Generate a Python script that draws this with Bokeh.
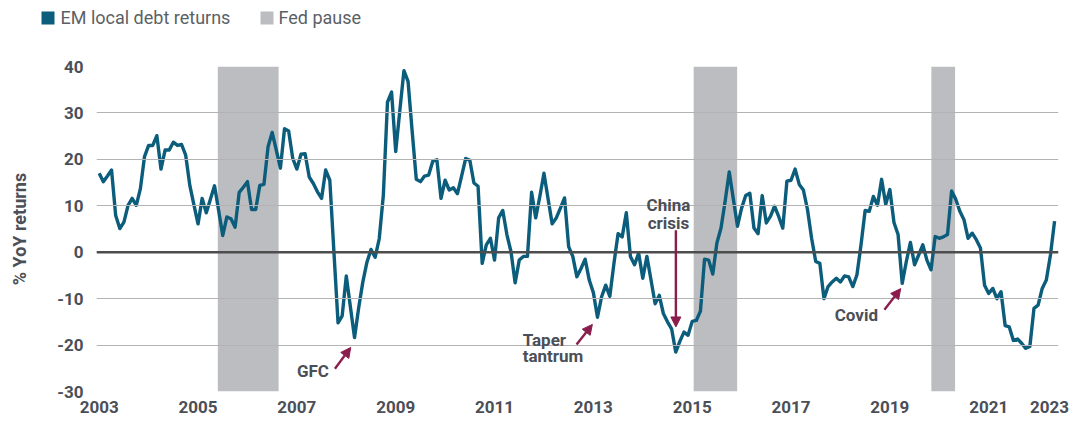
import numpy as np
from bokeh.plotting import figure
from bokeh.layouts import column, row
from bokeh.models import (FixedTicker, Span, Arrow, NormalHead, Label, Range1d)
from bokeh.core.properties import value
from bokeh.embed import file_html
from bokeh.resources import INLINE

# ---------------- data ----------------
# EM local debt returns, % YoY, monthly from Jan 2003
returns = [
    17.0, 15.2, 16.4, 17.7, 7.9, 5.1, 6.5, 10.1, 11.6, 10.1, 13.7, 20.6,
    23.0, 23.0, 25.1, 17.9, 22.0, 22.0, 23.7, 23.0, 23.2, 20.9, 14.4, 10.2,
    6.1, 11.6, 8.5, 11.4, 14.3, 9.0, 3.6, 7.6, 7.2, 5.4, 12.9, 14.0,
    15.2, 9.2, 9.2, 14.4, 14.6, 22.7, 25.8, 22.0, 18.1, 26.6, 26.1, 20.2,
    17.9, 21.1, 21.2, 16.2, 14.8, 13.0, 11.6, 17.7, 15.5, 0.0, -15.2, -13.7,
    -5.1, -11.8, -18.4, -12.0, -6.5, -2.2, 0.6, -1.1, 2.9, 12.3, 32.3, 34.5,
    21.7, 30.5, 39.1, 36.8, 26.0, 15.7, 15.2, 16.4, 16.6, 19.6, 19.9, 11.6,
    15.5, 13.4, 13.9, 12.6, 16.4, 20.2, 19.8, 14.9, 14.2, -2.4, 1.6, 3.0,
    -1.7, 7.4, 9.0, 3.8, 0.1, -6.6, -1.7, -0.9, -0.9, 12.9, 7.4, 12.0,
    17.0, 11.5, 6.1, 7.4, 9.5, 11.7, 1.2, -0.9, -5.3, -3.5, -1.5, -6.0,
    -8.7, -14.0, -9.6, -7.1, -9.5, -2.4, 4.0, 3.3, 8.5, -0.9, -2.7, -0.2,
    -5.6, -0.9, -6.0, -11.1, -9.3, -13.2, -15.0, -16.5, -21.5, -19.2, -17.2, -17.9,
    -14.9, -14.7, -12.7, -1.5, -1.7, -4.7, 2.0, 5.2, 11.0, 17.3, 11.4, 5.6,
    9.5, 12.2, 12.7, 5.2, 4.0, 12.2, 6.3, 7.7, 9.9, 7.7, 5.2, 15.3,
    15.5, 17.9, 14.6, 13.4, 9.2, 3.0, -2.0, -2.4, -10.0, -7.4, -6.4, -5.6,
    -6.4, -5.1, -5.3, -7.4, -4.9, 1.6, 9.0, 8.8, 12.0, 10.1, 15.7, 10.3,
    13.5, 6.4, 3.8, -6.7, -2.0, 2.1, -2.7, -0.6, 1.6, -1.7, -3.8, 3.4,
    3.0, 3.3, 3.8, 13.2, 11.4, 8.8, 7.0, 3.0, 4.1, 2.7, 0.9, -7.1,
    -8.9, -7.8, -10.0, -8.5, -15.8, -16.1, -19.0, -18.7, -19.6, -20.7, -20.3, -12.1,
    -11.4, -7.8, -6.0, -0.6, 6.7,
]
start_year = 2003
months = np.arange(len(returns))
dates = start_year + months / 12.0

# Fed pause periods (fractional years)
pause_start = [2005.40, 2015.03, 2019.84]
pause_end = [2006.63, 2015.91, 2020.32]

# tick labels
x_tick_values = [2003, 2005, 2007, 2009, 2011, 2013, 2015, 2017, 2019, 2021, 2022.23]
x_tick_labels = ["2003", "2005", "2007", "2009", "2011", "2013", "2015", "2017",
                 "2019", "2021", "2023"]
y_ticks = [-30, -20, -10, 0, 10, 20, 30, 40]

series_names = ["EM local debt returns", "Fed pause"]

# ---------------- style ----------------
TEAL = "#0b5d7b"
BAND = "#bcbdc1"
MAROON = "#8a1d4b"
TXT = "#4b4f57"
FONT = "Roboto"
W = 1089
LEG_H = 30

# ---------------- legend strip (pixel-space figure, y pointing down) ----------------
lg = figure(width=W, height=LEG_H, output_backend="svg", toolbar_location=None,
            x_range=Range1d(0, W), y_range=Range1d(LEG_H, 0),
            x_axis_type=None, y_axis_type=None, min_border=0)
lg.outline_line_color = None
lg.grid.visible = False
leg_swatch_left = [41, 260]
leg_text_left = [60, 278]
lg.quad(left=leg_swatch_left, right=[x + 13 for x in leg_swatch_left],
        top=[11, 11], bottom=[24, 24], fill_color=[TEAL, BAND], line_color=None)
lg.text(x=leg_text_left, y=[17, 17], text=series_names, text_font=value(FONT),
        text_font_size="18px", text_color="#5b5f66", text_baseline="middle",
        text_align="left")

# ---------------- main chart ----------------
p = figure(width=W, height=425 - LEG_H, output_backend="svg", toolbar_location=None,
           x_range=Range1d(2002.945, 2022.413), y_range=Range1d(-30, 40),
           min_border_left=96, min_border_right=31, min_border_top=66 - LEG_H,
           min_border_bottom=34)
p.outline_line_color = None

bands = p.quad(left=pause_start, right=pause_end, bottom=-30, top=40,
               fill_color=BAND, line_color=None, level="underlay")

p.xgrid.visible = False
p.ygrid.ticker = FixedTicker(ticks=y_ticks)
p.ygrid.grid_line_color = "#b3b3b3"
p.ygrid.grid_line_width = 1.2
p.ygrid.level = "glyph"

zero = Span(location=0, dimension="width", line_color="#4d4d4d", line_width=2.6,
            level="glyph")
p.add_layout(zero)

p.line(dates, returns, line_color=TEAL, line_width=3.4, line_join="round")

# axes
p.xaxis.ticker = FixedTicker(ticks=x_tick_values)
p.xaxis.major_label_overrides = {v: l for v, l in zip(x_tick_values, x_tick_labels)}
p.yaxis.ticker = FixedTicker(ticks=y_ticks)
p.yaxis.major_label_overrides = {t: str(t) for t in y_ticks}
for ax in (p.xaxis[0], p.yaxis[0]):
    ax.axis_line_color = None
    ax.major_tick_line_color = None
    ax.minor_tick_line_color = None
    ax.major_tick_out = 0
    ax.major_tick_in = 0
    ax.minor_tick_out = 0
    ax.major_label_text_font = FONT
    ax.major_label_text_font_style = "bold"
    ax.major_label_text_font_size = "17px"
    ax.major_label_text_color = TXT
p.xaxis.major_label_standoff = 9
p.yaxis.major_label_standoff = 13
p.yaxis.axis_label = "% YoY returns"
p.yaxis.axis_label_text_font = FONT
p.yaxis.axis_label_text_font_style = "bold"
p.yaxis.axis_label_text_font_size = "18px"
p.yaxis.axis_label_text_color = TXT
p.yaxis.axis_label_standoff = 24

# annotations
def add_label(x, y, text, align):
    p.add_layout(Label(x=x, y=y, text=text, text_font=FONT, text_font_style="bold",
                       text_font_size="17px", text_color=TXT, text_align=align,
                       text_baseline="alphabetic"))

def add_arrow(x0, y0, x1, y1):
    p.add_layout(Arrow(x_start=x0, y_start=y0, x_end=x1, y_end=y1,
                       line_color=MAROON, line_width=2.4,
                       end=NormalHead(size=10, fill_color=MAROON, line_color=MAROON)))

add_label(2007.65, -25.6, "GFC", "right")
add_arrow(2007.77, -25.1, 2008.09, -20.5)

add_label(2011.57, -18.8, "Taper", "left")
add_label(2011.57, -22.4, "tantrum", "left")
add_arrow(2012.66, -19.9, 2012.98, -15.55)

add_label(2014.52, 10.15, "China", "center")
add_label(2014.52, 6.2, "crisis", "center")
add_arrow(2014.67, 4.75, 2014.67, -16.1)

add_label(2018.76, -13.6, "Covid", "right")
add_arrow(2018.89, -12.4, 2019.22, -7.84)

layout = column(row(lg, spacing=0), row(p, spacing=0), spacing=0)
open("out.html", "w").write(file_html(layout, INLINE))
